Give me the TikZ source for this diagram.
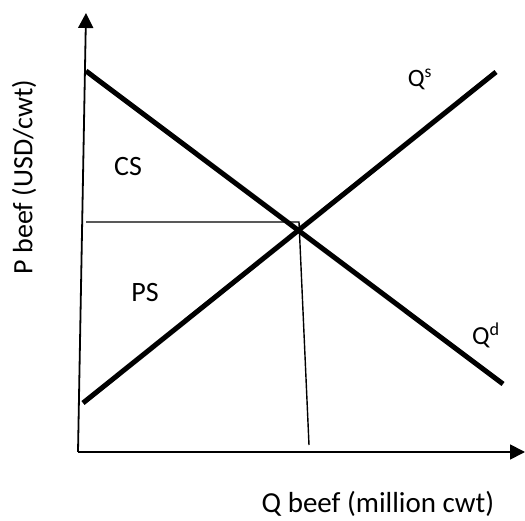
\documentclass[tikz,border=0pt]{standalone}
\usepackage{fontspec}
\setmainfont{Carlito}
\usetikzlibrary{arrows.meta}
\begin{document}
\begin{tikzpicture}[x=1pt,y=-1pt,
  axis/.style={line width=1.8pt,-{Triangle[length=15pt,width=15pt]}},
  curve/.style={line width=5pt},
  guide/.style={line width=1.4pt},
  lbl/.style={inner sep=0pt}]
\useasboundingbox (0,0) rectangle (525,521);
\coordinate (o) at (78,452);
\coordinate (ytop) at (86,13);
\coordinate (xend) at (525,452);
\draw[axis] (o) -- (ytop);
\draw[axis] (o) -- (xend);
\coordinate (d1) at (86,71);
\coordinate (d2) at (503,384);
\coordinate (s1) at (83,403);
\coordinate (s2) at (496,72);
\draw[curve] (d1) -- (d2);
\draw[curve] (s1) -- (s2);
\coordinate (h1) at (86,222);
\coordinate (h2) at (299,222);
\coordinate (v2) at (309,445);
\draw[guide] (h1) -- (h2) -- (v2);
\node[lbl,font=\fontsize{25}{30}\selectfont] (qs) at (420,79) {Q\textsuperscript{s}};
\node[lbl,font=\fontsize{26}{31}\selectfont] (qd) at (486,335) {Q\textsuperscript{d}};
\node[lbl,font=\fontsize{28}{33}\selectfont] (cs) at (128,167) {CS};
\node[lbl,font=\fontsize{28}{33}\selectfont] (ps) at (145,293) {PS};
\node[lbl,rotate=90,font=\fontsize{28}{33}\selectfont] (py) at (24,177) {P beef (USD/cwt)};
\node[lbl,font=\fontsize{29}{34}\selectfont] (qx) at (378,504) {Q beef (million cwt)};
\end{tikzpicture}
\end{document}
